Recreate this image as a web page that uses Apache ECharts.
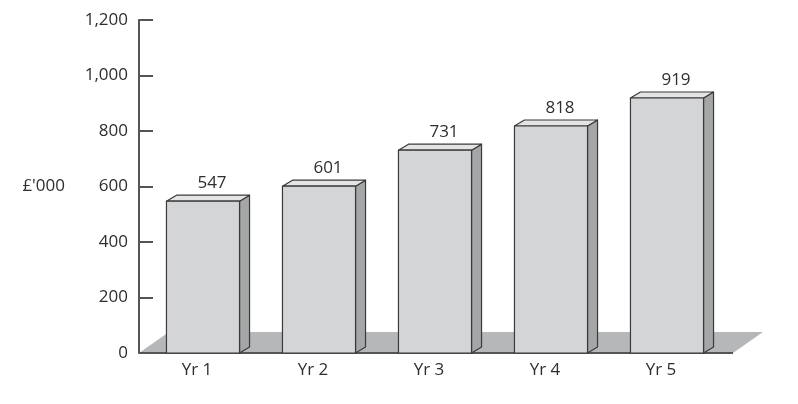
<!DOCTYPE html>
<html>
<head>
<meta charset="utf-8">
<script src="https://cdn.jsdelivr.net/npm/echarts@6/dist/echarts.min.js"></script>
<style>
  html, body { margin: 0; padding: 0; background: #fff; }
  #chart { width: 798px; height: 404px; }
</style>
</head>
<body>
<div id="chart"></div>
<script>
// data
const years = ['Yr 1', 'Yr 2', 'Yr 3', 'Yr 4', 'Yr 5'];
const values = [547, 601, 731, 818, 919];
const yTicks = [0, 200, 400, 600, 800, 1000, 1200];

const FONT = '"Open Sans", sans-serif';
const TEXT = '#2e2e2e';
const EDGE = '#3a3a3a';

// fake 3d depth of each bar
const depthX = 10, depthY = -6;

function renderBar(params, api) {
    let base = api.coord([api.value(0), 0]),
        top = api.coord([api.value(0), api.value(1)]),
        band = api.size([1, 0])[0],
        w = band * 0.63,
        x0 = base[0] + 6 - w / 2,
        x1 = x0 + w;
    let edge = { stroke: EDGE, lineWidth: 1.2, lineJoin: 'round' };
    return {
        type: 'group',
        children: [{
            type: 'polygon',
            shape: { points: [[x1, top[1]], [x1 + depthX, top[1] + depthY], [x1 + depthX, base[1] + depthY], [x1, base[1]]] },
            style: Object.assign({ fill: '#a5a6a8' }, edge)
        }, {
            type: 'polygon',
            shape: { points: [[x0, top[1]], [x0 + depthX, top[1] + depthY], [x1 + depthX, top[1] + depthY], [x1, top[1]]] },
            style: Object.assign({ fill: '#e4e4e5' }, edge)
        }, {
            type: 'rect',
            shape: { x: x0, y: top[1], width: w, height: base[1] - top[1] },
            style: Object.assign({ fill: '#d4d5d7' }, edge)
        }, {
            type: 'text',
            x: x0 + w / 2 + 9,
            y: top[1] - 18,
            style: {
                text: String(api.value(1)),
                fill: TEXT,
                font: '17px ' + FONT,
                align: 'center',
                verticalAlign: 'middle'
            }
        }]
    };
}

// grey floor under the bars, plus the dark front edge
function renderFloor(params, api) {
    let cs = params.coordSys,
        yb = cs.y + cs.height,
        xl = cs.x,
        xr = cs.x + cs.width + 14;
    return {
        type: 'group',
        children: [{
            type: 'polygon',
            shape: { points: [[xl, yb], [xl + 30, yb - 21], [xr + 30, yb - 21], [xr, yb]] },
            style: { fill: '#b6b7b9' }
        }, {
            type: 'line',
            shape: { x1: xl, y1: yb, x2: xr, y2: yb },
            style: { stroke: '#555', lineWidth: 2 }
        }]
    };
}

let chart = echarts.init(document.getElementById('chart'));
chart.setOption({
    animation: false,
    backgroundColor: '#fff',
    grid: { left: 139, right: 79, top: 20, bottom: 51 },
    xAxis: {
        type: 'category',
        data: years,
        axisLine: { show: false },
        axisTick: { show: false },
        axisLabel: { color: TEXT, fontSize: 17, fontFamily: FONT, margin: 9 }
    },
    yAxis: {
        type: 'value',
        min: yTicks[0],
        max: yTicks[yTicks.length - 1],
        interval: 200,
        name: "£'000",
        nameLocation: 'middle',
        nameRotate: 0,
        nameGap: 74,
        nameTextStyle: { color: TEXT, fontSize: 17, fontFamily: FONT, align: 'right', verticalAlign: 'middle' },
        axisLine: { show: true, lineStyle: { color: '#555', width: 2 } },
        axisTick: { show: true, inside: true, length: 14, lineStyle: { color: '#555', width: 2 } },
        axisLabel: {
            color: TEXT, fontSize: 17, fontFamily: FONT, margin: 11,
            formatter: v => v.toLocaleString('en-GB')
        },
        splitLine: { show: false }
    },
    series: [{
        type: 'custom',
        z: 1,
        silent: true,
        renderItem: renderFloor,
        data: [[0, 0]]
    }, {
        type: 'custom',
        z: 2,
        renderItem: renderBar,
        encode: { x: 0, y: 1 },
        data: years.map((y, i) => [i, values[i]])
    }]
});
</script>
</body>
</html>
